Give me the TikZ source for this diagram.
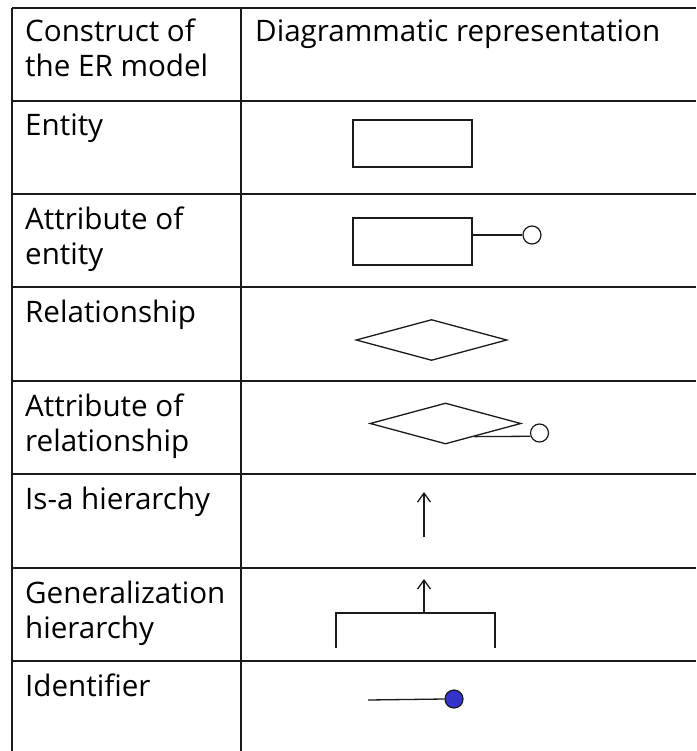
\documentclass[tikz,border=0pt]{standalone}
\usepackage{fontspec}
\setmainfont{Open Sans}
\usetikzlibrary{shapes.geometric,arrows.meta,calc}
\definecolor{ink}{HTML}{1A1A1A}
\definecolor{keyblue}{HTML}{3333CC}
\begin{document}
\begin{tikzpicture}[x=1pt,y=-1pt,
  grid/.style={draw=ink,line width=2pt},
  % the base anchor of a multi-line label sits on its last line
  label/.style={anchor=base west,align=left,inner sep=0pt,
    font=\fontsize{29.6pt}{35pt}\selectfont,text=black},
  ent/.style={draw=ink,line width=1.3pt,rectangle,minimum width=119pt,
    minimum height=47pt,inner sep=0pt},
  rel/.style={draw=ink,line width=1.3pt,diamond,minimum width=151pt,
    minimum height=41pt,inner sep=0pt},
  attr/.style={draw=ink,line width=1.2pt,circle,minimum size=18pt,inner sep=0pt,fill=white},
  conn/.style={draw=ink,line width=1.3pt},
  isa/.style={draw=ink,line width=1.3pt,-{Straight Barb[length=9pt,width=13pt,line width=1.3pt]}}
]
\useasboundingbox (0,0) rectangle (696,751);
\fill[white] (0,0) rectangle (696,751);

% table rules
\foreach \y in {8,101,194,287,381,474,568,661}
  \draw[grid] (12,\y) -- (696,\y);
\draw[grid] (12,8) -- (12,751);
\draw[grid] (241,8) -- (241,751);

% header
\node[label] (h1) at (25,77) {Construct of\\the ER model};
\node[label] (h2) at (255,42) {Diagrammatic representation};

% construct names
\node[label] (l1) at (25,136) {Entity};
\node[label] (l2) at (25,264) {Attribute of\\entity};
\node[label] (l3) at (25,322) {Relationship};
\node[label] (l4) at (25,451) {Attribute of\\relationship};
\node[label] (l5) at (25,509) {Is-a hierarchy};
\node[label] (l6) at (25,638) {Generalization\\hierarchy};
\node[label] (l7) at (25,696) {Identifier};

% entity
\node[ent] (e1) at (412.5,143.5) {};

% attribute of entity
\node[ent] (e2) at (412.5,241.5) {};
\node[attr] (a2) at (532,235) {};
\draw[conn] (e2.east |- a2.west) -- (a2.west);

% relationship
\node[rel] (r1) at (431.5,340) {};

% attribute of relationship
\node[rel] (r2) at (445.5,423.5) {};
\node[attr] (a4) at (539.5,433) {};
\coordinate (r2p) at ($(r2.east)!0.62!(r2.south)$);
\draw[conn] (r2p) -- (a4.200);

% is-a hierarchy
\coordinate (i1) at (424,537);
\coordinate (i2) at (424,492);
\draw[isa] (i1) -- (i2);

% generalization hierarchy
\coordinate (gl) at (336,648);
\coordinate (gr) at (495,648);
\coordinate (gm) at (424,613);
\coordinate (gt) at (424,579);
\draw[conn] (gl) |- (gm) -| (gr);
\draw[isa] (gm) -- (gt);

% identifier
\coordinate (k0) at (368,700);
\node[attr,fill=keyblue] (k1) at (454,699) {};
\draw[conn] (k0) -- (k1.west);
\end{tikzpicture}
\end{document}
